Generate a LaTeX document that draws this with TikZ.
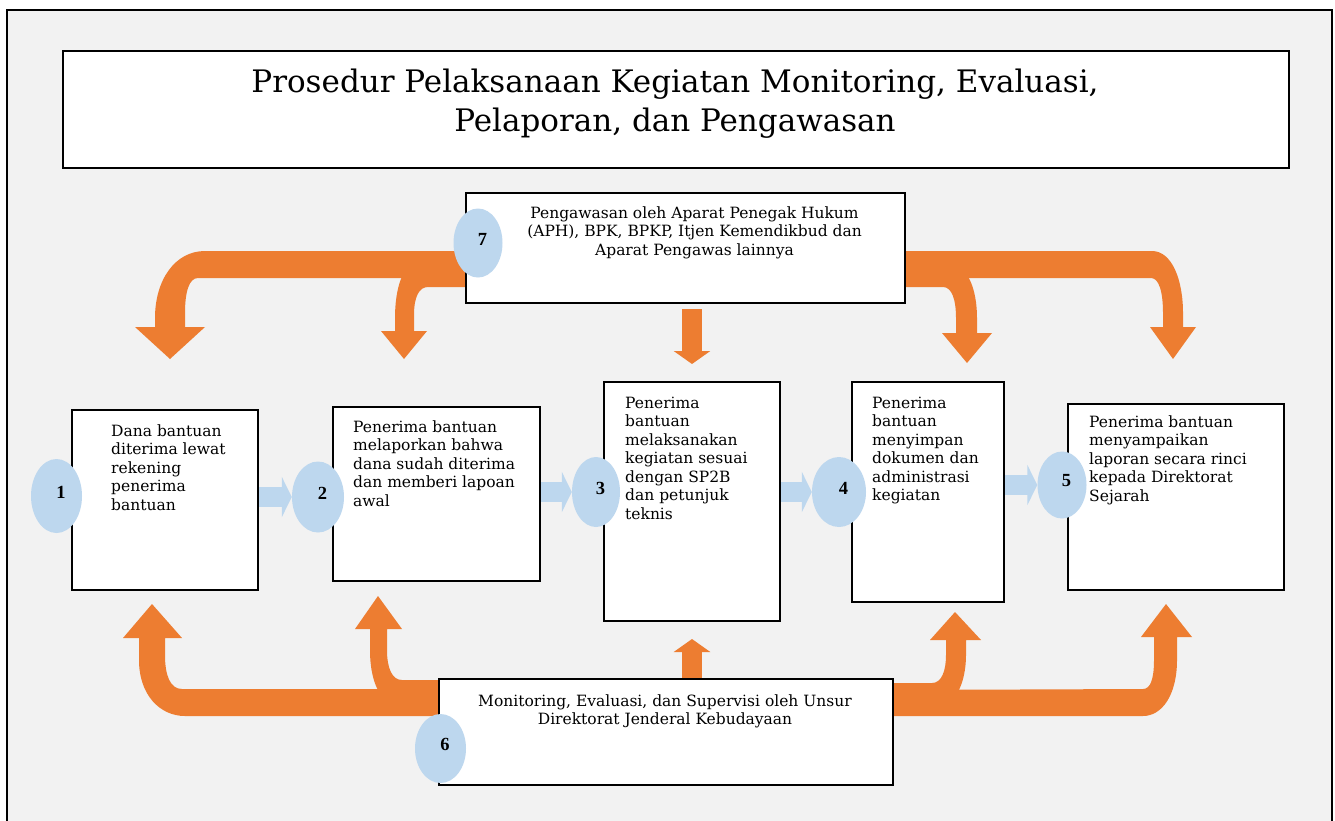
\documentclass[tikz,border=0pt]{standalone}
\usepackage{fontspec}
\setmainfont{DejaVu Serif}
\newfontfamily\numfont{Liberation Serif}
\usetikzlibrary{shapes.geometric,arrows.meta}
\definecolor{bggray}{HTML}{F2F2F2}
\definecolor{orng}{HTML}{ED7D31}
\definecolor{lblue}{HTML}{BDD7EE}
\pgfdeclarelayer{bglayer}
\pgfdeclarelayer{arrowlayer}
\pgfsetlayers{bglayer,arrowlayer,main}
\tikzset{
  box/.style={draw=black, line width=2pt, fill=white, rectangle, inner sep=0pt, anchor=north west},
  numell/.style={ellipse, fill=lblue, inner sep=0pt},
  numlab/.style={inner sep=0pt, xshift=4.5pt, yshift=4pt, font=\numfont\bfseries\fontsize{18.5}{18.5}\selectfont},
  txt/.style={inner sep=0pt, align=left, anchor=base west, font=\fontsize{15.5}{18.5}\selectfont},
  ctxt/.style={inner sep=0pt, align=center, anchor=base, font=\fontsize{15.5}{18.5}\selectfont},
  titletxt/.style={inner sep=0pt, align=center, anchor=base, font=\fontsize{31}{39}\selectfont},
  barrow/.style={draw=lblue, line width=20pt, -{Triangle[length=10pt,width=40pt]}},
  oarrow/.style={draw=orng, line width=20pt, -{Triangle[length=13pt,width=36pt]}},
  ofill/.style={fill=orng, draw=none}
}
\begin{document}
\begin{tikzpicture}[x=1pt,y=-1pt]
\useasboundingbox (0,0) rectangle (1335,820);
\clip (0,0) rectangle (1335,820);
% outer frame
\begin{pgfonlayer}{bglayer}
\draw[fill=bggray, line width=2pt] (7,10) rectangle (1332,850);
\end{pgfonlayer}

% title
\node[box, minimum width=1226pt, minimum height=117pt] (b0) at (62,50) {};
\node[titletxt] (t0) at (675,131) {Prosedur Pelaksanaan Kegiatan Monitoring, Evaluasi,\\Pelaporan, dan Pengawasan};

\begin{pgfonlayer}{arrowlayer}
% orange curved arrows (top)
\fill[ofill] (465,251) -- (205,251) .. controls (175,251) and (155,280) .. (155,318) -- (155,327) -- (135,327) -- (170,359) -- (205,327) -- (185,327) -- (185,313) .. controls (185,292) and (189,278) .. (198,278) -- (465,278) -- cycle;
\fill[ofill] (465,262) -- (420,262) .. controls (402,262) and (395,290) .. (395,318) -- (395,331) -- (381,331) -- (404,359) -- (427,331) -- (414,331) -- (414,315) .. controls (414,297) and (419,287) .. (428,287) -- (465,287) -- cycle;
\fill[ofill] (902,262) -- (945,262) .. controls (968,262) and (977,290) .. (977,318) -- (977,333) -- (992,333) -- (967,363) -- (942,333) -- (956,333) -- (956,318) .. controls (956,300) and (952,287) .. (943,287) -- (902,287) -- cycle;
\fill[ofill] (902,251) -- (1152,251) .. controls (1172,251) and (1183,280) .. (1183,313) -- (1183,327) -- (1196,327) -- (1173,359) -- (1150,327) -- (1163,327) -- (1163,313) .. controls (1163,292) and (1159,278) .. (1151,278) -- (902,278) -- cycle;
% orange curved arrows (bottom)
\fill[ofill] (438,689) -- (182,689) .. controls (170,689) and (165,675) .. (165,655) -- (165,638) -- (182,638) -- (152,604) -- (123,638) -- (139,638) -- (139,660) .. controls (139,695) and (160,716) .. (185,716) -- (438,716) -- cycle;
\fill[ofill] (438,680) -- (402,680) .. controls (392,680) and (387,668) .. (387,650) -- (387,629) -- (402,629) -- (378,596) -- (355,629) -- (370,629) -- (370,650) .. controls (370,672) and (375,690) .. (385,700) -- (438,700) -- cycle;
\fill[ofill] (890,683) -- (932,683) .. controls (942,683) and (946,670) .. (946,655) -- (946,640) -- (930,640) -- (955,612) -- (981,640) -- (966,640) -- (966,655) .. controls (966,675) and (960,695) .. (950,700) -- (890,700) -- cycle;
\fill[ofill] (890,690) -- (1143,689) .. controls (1150,689) and (1154,680) .. (1154,660) -- (1154,637) -- (1141,637) -- (1166,604) -- (1192,637) -- (1177,637) -- (1177,660) .. controls (1177,695) and (1162,716) .. (1143,716) -- (890,716) -- cycle;
\end{pgfonlayer}

% boxes
\node[box, minimum width=439pt, minimum height=110pt] (b7) at (465,192) {};
\node[box, minimum width=186pt, minimum height=180pt] (b1) at (71,409) {};
\node[box, minimum width=207pt, minimum height=174pt] (b2) at (332,406) {};
\node[box, minimum width=176pt, minimum height=239pt] (b3) at (603,381) {};
\node[box, minimum width=152pt, minimum height=220pt] (b4) at (851,381) {};
\node[box, minimum width=216pt, minimum height=186pt] (b5) at (1067,403) {};
\node[box, minimum width=454pt, minimum height=106pt] (b6) at (438,678) {};

% texts (base = last line)
\node[ctxt] (t7) at (694.5,255) {Pengawasan oleh Aparat Penegak Hukum\\(APH), BPK, BPKP, Itjen Kemendikbud dan\\Aparat Pengawas lainnya};
\node[txt] (t1) at (111,510) {Dana bantuan\\diterima lewat\\rekening\\penerima\\bantuan};
\node[txt] (t2) at (353,506) {Penerima bantuan\\melaporkan bahwa\\dana sudah diterima\\dan memberi lapoan\\awal};
\node[txt] (t3) at (625,519) {Penerima\\bantuan\\melaksanakan\\kegiatan sesuai\\dengan SP2B\\dan petunjuk\\teknis};
\node[txt] (t4) at (872,500.5) {Penerima\\bantuan\\menyimpan\\dokumen dan\\administrasi\\kegiatan};
\node[txt] (t5) at (1089,501) {Penerima bantuan\\menyampaikan\\laporan secara rinci\\kepada Direktorat\\Sejarah};
\node[ctxt] (t6) at (665,724.5) {Monitoring, Evaluasi, dan Supervisi oleh Unsur\\Direktorat Jenderal Kebudayaan};

% numbered ellipses
\node[numell, minimum width=51pt, minimum height=74pt, label={[numlab]center:1}] (e1) at (56.5,496) {};
\node[numell, minimum width=52pt, minimum height=71pt, label={[numlab]center:2}] (e2) at (318,497) {};
\node[numell, minimum width=48pt, minimum height=70pt, label={[numlab]center:3}] (e3) at (596,492) {};
\node[numell, minimum width=54pt, minimum height=70pt, label={[numlab]center:4}] (e4) at (839,492) {};
\node[numell, minimum width=49pt, minimum height=67pt, label={[numlab]center:5}] (e5) at (1062,485) {};
\node[numell, minimum width=51pt, minimum height=69pt, label={[numlab]center:6}] (e6) at (440.5,748.5) {};
\node[numell, minimum width=49pt, minimum height=69pt, label={[numlab]center:7}] (e7) at (478,243) {};

\begin{pgfonlayer}{arrowlayer}
% straight orange arrows
\draw[oarrow, shorten <=5pt, shorten >=17pt] (b7.south -| b3.north) -- (b3.north);
\draw[oarrow, shorten >=17pt] (b6.north -| b3.south) -- (b3.south);
% blue arrows
\draw[barrow] (b1.east |- e2) -- (e2.west);
\draw[barrow] (b2.east |- e3) -- (e3.west);
\draw[barrow] (b3.east |- e4) -- (e4.west);
\draw[barrow] (b4.east |- e5) -- (e5.west);
\end{pgfonlayer}
\end{tikzpicture}
\end{document}
